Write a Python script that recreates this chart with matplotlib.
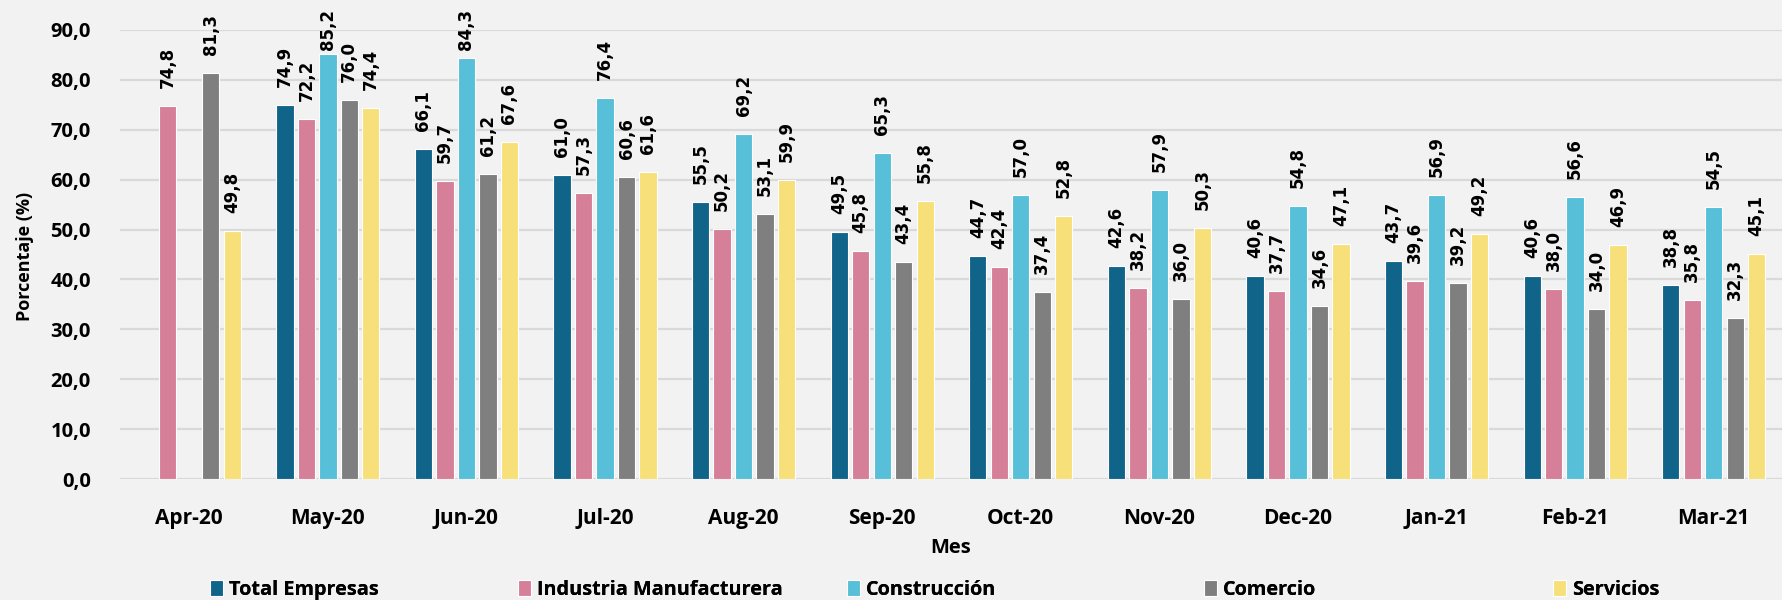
from matplotlib import pyplot as plt
import numpy as np

meses = ['Apr-20', 'May-20', 'Jun-20', 'Jul-20', 'Aug-20', 'Sep-20',
         'Oct-20', 'Nov-20', 'Dec-20', 'Jan-21', 'Feb-21', 'Mar-21']
series = ['Total Empresas', 'Industria Manufacturera', 'Construcción', 'Comercio', 'Servicios']

total_empresas = [np.nan, 74.9, 66.1, 61.0, 55.5, 49.5, 44.7, 42.6, 40.6, 43.7, 40.6, 38.8]
industria = [74.8, 72.2, 59.7, 57.3, 50.2, 45.8, 42.4, 38.2, 37.7, 39.6, 38.0, 35.8]
construccion = [np.nan, 85.2, 84.3, 76.4, 69.2, 65.3, 57.0, 57.9, 54.8, 56.9, 56.6, 54.5]
comercio = [81.3, 76.0, 61.2, 60.6, 53.1, 43.4, 37.4, 36.0, 34.6, 39.2, 34.0, 32.3]
servicios = [49.8, 74.4, 67.6, 61.6, 59.9, 55.8, 52.8, 50.3, 47.1, 49.2, 46.9, 45.1]

valores = [total_empresas, industria, construccion, comercio, servicios]
colores = ['#116489', '#D57F99', '#57BFD7', '#7F7F7F', '#F7E07A']

fondo = '#F2F2F2'
fuente = {'family': 'Open Sans', 'weight': 'bold'}
W, H = 1783, 600
y0_px, y90_px = 479, 30

fig = plt.figure(figsize=(W / 100, H / 100), dpi=100, facecolor=fondo)
ax = fig.add_axes([120 / W, 1 - y0_px / H, 1 - 120 / W, (y0_px - y90_px) / H])
ax.set_facecolor(fondo)

x = np.arange(len(meses))
ancho = 0.125
paso = 0.155
px_por_unidad = (y0_px - y90_px) / 90
handles = []
for i, (nombre, vals, col) in enumerate(zip(series, valores, colores)):
    pos = x + (i - 2) * paso
    barras = ax.bar(pos, vals, width=ancho, color=col, edgecolor='white', linewidth=0.8,
                    label=nombre, zorder=3)
    handles.append(barras)
    for p, v in zip(pos, vals):
        if np.isnan(v):
            continue
        # como en Excel, la etiqueta baja si no cabe arriba del grafico
        libre = y0_px - v * px_por_unidad - 42 - 8
        desplaz = min(18, libre) * 0.72
        ax.annotate(f'{v:.1f}'.replace('.', ','), (p, v), xytext=(0, desplaz),
                    textcoords='offset points', rotation=90, ha='center', va='bottom',
                    fontsize=12, fontweight='bold', family='DejaVu Sans',
                    annotation_clip=False)

ax.set_xlim(-0.5, len(meses) - 0.5)
ax.set_ylim(0, 90)
ticks = np.arange(0, 91, 10)
ax.set_yticks(ticks)
ax.set_yticklabels([f'{t:.1f}'.replace('.', ',') for t in ticks], fontsize=14.5, **fuente)
ax.set_xticks(x)
ax.set_xticklabels(meses, fontsize=15, **fuente)
ax.tick_params(axis='x', length=0, pad=21)
ax.tick_params(axis='y', length=0, pad=21)
ax.grid(axis='y', color='#D9D9D9', linewidth=1.6, zorder=0)
for s in ax.spines.values():
    s.set_visible(False)

fig.text(951 / W, 1 - 548 / H, 'Mes', ha='center', va='center', fontsize=14.5, **fuente)
fig.text(25 / W, 1 - 256 / H, 'Porcentaje (%)', rotation=90, ha='center', va='center',
         fontsize=13, **fuente)

# leyenda: una entrada por serie, repartidas a lo ancho
pos_leyenda = [210, 518, 847, 1204, 1553]
for h, xp in zip(handles, pos_leyenda):
    leg = fig.legend([h], [h.get_label()], loc='center left',
                     bbox_to_anchor=(xp / W, 1 - 590 / H), frameon=False,
                     handlelength=0.65, handleheight=0.85, handletextpad=0.3,
                     borderpad=0, borderaxespad=0,
                     prop={'family': 'Open Sans', 'weight': 'bold', 'size': 14.3})
    fig.add_artist(leg)

fig.savefig('out.png', dpi=100, facecolor=fondo)
